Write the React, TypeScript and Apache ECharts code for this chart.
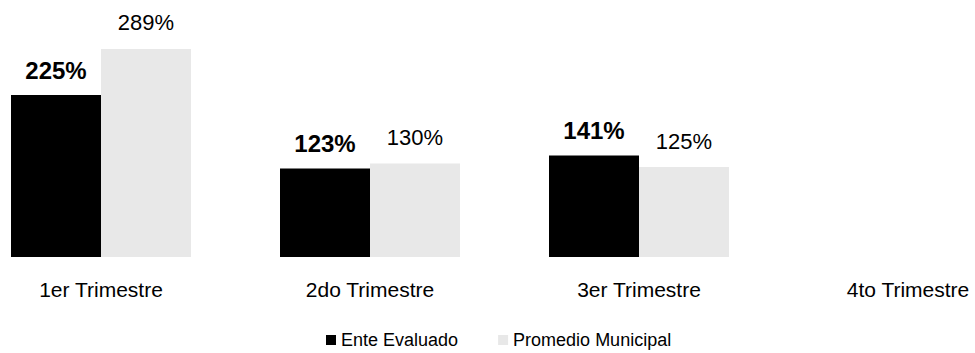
import React, { useEffect, useRef } from "react";
import * as echarts from "echarts";

const categories = ["1er Trimestre", "2do Trimestre", "3er Trimestre", "4to Trimestre"];
const enteEvaluado = [225, 123, 141, null];
const promedioMunicipal = [289, 130, 125, null];
const seriesNames = ["Ente Evaluado", "Promedio Municipal"];

const FONT = "'Liberation Sans', Arial, sans-serif";

export default function App() {
  const ref = useRef<HTMLDivElement>(null);
  useEffect(() => {
    if (!ref.current) return;
    const chart = echarts.init(ref.current, null, { renderer: "svg" });
    chart.setOption({
      animation: false,
      backgroundColor: "#ffffff",
      textStyle: { fontFamily: FONT },
      grid: {
        left: -33.5,
        width: 1076,
        top: 41,
        height: 216,
        outerBoundsMode: "none",
      },
      legend: {
        left: 326,
        top: 330,
        padding: 0,
        itemWidth: 10,
        itemHeight: 10,
        itemGap: 40,
        icon: "rect",
        textStyle: { fontSize: 18, lineHeight: 20, color: "#000", fontFamily: FONT },
        data: seriesNames,
      },
      xAxis: {
        type: "category",
        data: categories,
        axisLine: { show: false },
        axisTick: { show: false },
        axisLabel: { fontSize: 21, color: "#000", margin: 22, fontFamily: FONT, interval: 0 },
      },
      yAxis: {
        type: "value",
        min: 0,
        max: 300,
        show: false,
        splitLine: { show: false },
      },
      series: [
        {
          name: seriesNames[0],
          type: "bar",
          data: enteEvaluado,
          barWidth: 90,
          barGap: "0%",
          itemStyle: { color: "#000000" },
          label: {
            show: true,
            position: "top",
            distance: 13,
            formatter: "{c}%",
            fontSize: 24,
            fontWeight: "bold",
            color: "#000",
            fontFamily: FONT,
          },
        },
        {
          name: seriesNames[1],
          type: "bar",
          data: promedioMunicipal,
          barWidth: 90,
          barGap: "0%",
          itemStyle: { color: "#e8e8e8" },
          label: {
            show: true,
            position: "top",
            distance: 15,
            formatter: "{c}%",
            fontSize: 22,
            color: "#000",
            fontFamily: FONT,
          },
        },
      ],
    });
    return () => chart.dispose();
  }, []);
  return (
    <div
      ref={ref}
      style={{ position: "fixed", left: 0, top: 0, width: 975, height: 353 }}
    />
  );
}
